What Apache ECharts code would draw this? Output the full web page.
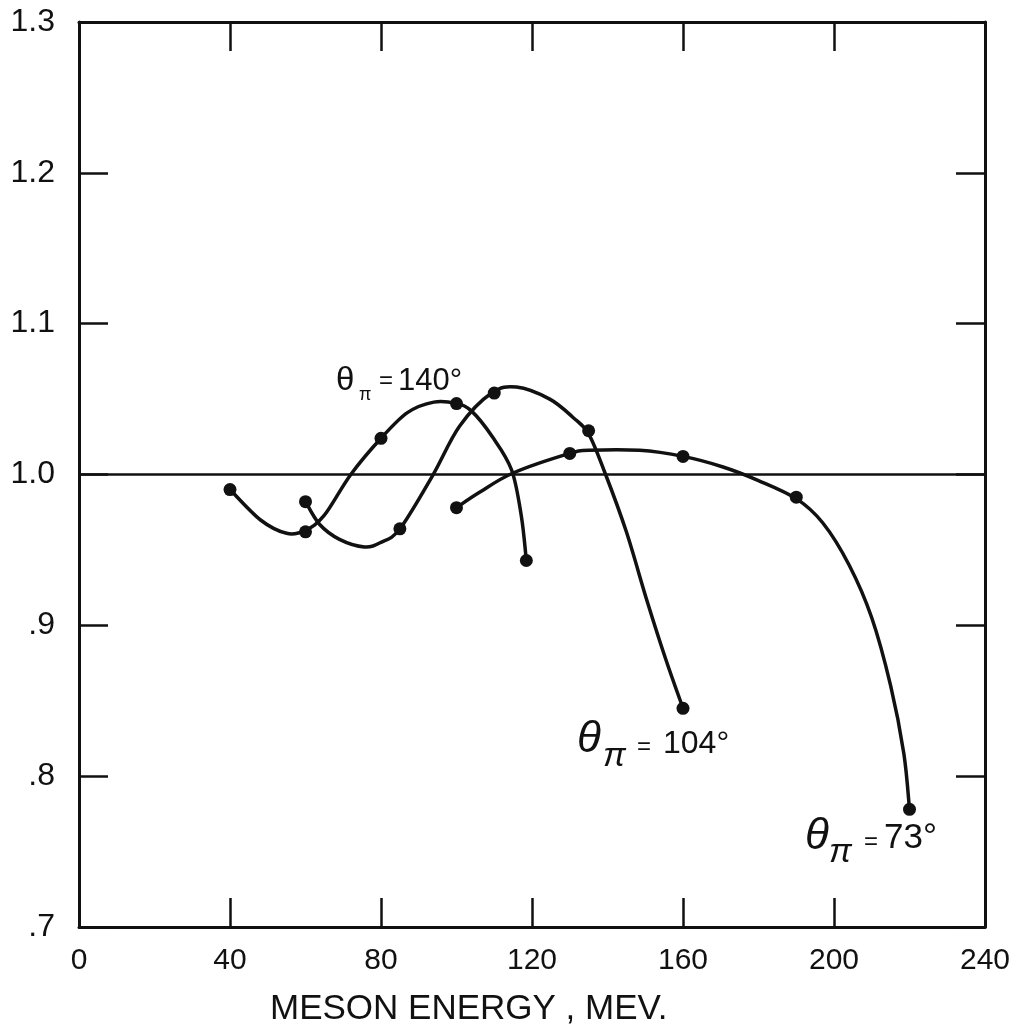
<!DOCTYPE html>
<html>
<head>
<meta charset="utf-8">
<script src="https://cdn.jsdelivr.net/npm/echarts@6/dist/echarts.min.js"></script>
<style>
html,body{margin:0;padding:0;background:#fff;}
#chart{width:1021px;height:1031px;}
</style>
</head>
<body>
<div id="chart"></div>
<script>
// ---- data ----
const xTickValues = [0, 40, 80, 120, 160, 200, 240];
const yTickLabels = ['.7', '.8', '.9', '1.0', '1.1', '1.2', '1.3'];
const xAxisTitle = 'MESON ENERGY , MEV.';

// measured points (dots)
const pts140 = [[40, 0.990], [60, 0.962], [80, 1.024], [100, 1.047], [118.5, 0.943]];
const pts104 = [[60, 0.982], [85, 0.964], [110, 1.054], [135, 1.029], [160, 0.845]];
const pts73  = [[100, 0.978], [130, 1.014], [160, 1.012], [190, 0.985], [220, 0.778]];

// hand-drawn curves
const curve140 = [[40, 0.990], [48, 0.970], [55, 0.961], [60, 0.963], [65, 0.973], [72, 1.000],
  [80, 1.024], [87, 1.041], [94, 1.048], [100, 1.047], [104, 1.042], [109.5, 1.025],
  [114.6, 1.003], [117.2, 0.972], [118.5, 0.943]];
const curve104 = [[60, 0.982], [63.7, 0.967], [69, 0.957], [75.6, 0.952], [80, 0.955], [85, 0.964],
  [93.6, 0.999], [100.8, 1.032], [109.3, 1.054], [115.9, 1.058], [124.7, 1.050], [130.8, 1.038],
  [135, 1.027], [139.5, 1.000], [145, 0.962], [150.5, 0.916], [155.5, 0.877], [160, 0.845]];
const curve73 = [[100, 0.978], [106, 0.988], [115, 1.001], [130, 1.014], [135, 1.016], [148.5, 1.016],
  [160, 1.012], [170.6, 1.005], [180, 0.996], [190, 0.984], [197, 0.968], [204, 0.940],
  [210, 0.905], [215, 0.860], [218.5, 0.815], [220, 0.778]];

const refLine = 1.0;

// ---- chart ----
const INK = '#111';
const FONT = '"Liberation Sans", "DejaVu Sans", sans-serif';
const chart = echarts.init(document.getElementById('chart'), null, {renderer: 'canvas'});

const xBase = {
  type: 'value', min: xTickValues[0], max: xTickValues[xTickValues.length - 1],
  interval: xTickValues[1] - xTickValues[0],
  splitLine: {show: false},
  axisLine: {show: true, onZero: false, lineStyle: {color: INK, width: 3}},
  axisTick: {show: true, inside: true, length: 29, lineStyle: {color: INK, width: 2.5}}
};
const yBase = {
  type: 'value', min: 0.7, max: 1.3, interval: 0.1,
  splitLine: {show: false},
  axisLine: {show: true, onZero: false, lineStyle: {color: INK, width: 3}},
  axisTick: {show: true, inside: true, length: 29, lineStyle: {color: INK, width: 2.5}}
};

// smooth curve through traced points (Catmull-Rom -> cubic Bezier), positioned by the axes
function curveSeries(data) {
  return {
    type: 'custom', coordinateSystem: 'cartesian2d', data: data, z: 3, silent: true,
    renderItem: function (params, api) {
      if (params.dataIndex !== 0) return null;
      const p = data.map(d => api.coord(d));
      let d = 'M' + p[0][0] + ' ' + p[0][1];
      for (let i = 0; i < p.length - 1; i++) {
        const p0 = p[i - 1] || p[i], p1 = p[i], p2 = p[i + 1], p3 = p[i + 2] || p[i + 1];
        const c1x = p1[0] + (p2[0] - p0[0]) / 6, c1y = p1[1] + (p2[1] - p0[1]) / 6;
        const c2x = p2[0] - (p3[0] - p1[0]) / 6, c2y = p2[1] - (p3[1] - p1[1]) / 6;
        d += ' C' + c1x + ' ' + c1y + ' ' + c2x + ' ' + c2y + ' ' + p2[0] + ' ' + p2[1];
      }
      return {type: 'path', shape: {pathData: d},
        style: {fill: 'none', stroke: INK, lineWidth: 3.5, lineJoin: 'round', lineCap: 'round'}};
    }
  };
}
function dotSeries(data) {
  return {type: 'scatter', data: data, symbol: 'circle', symbolSize: 13,
    itemStyle: {color: INK, opacity: 1}, z: 4};
}

function txt(x, y, s, size, italic) {
  return {type: 'text', x: x, y: y, z: 10,
    style: {text: s, fontSize: size, fontFamily: FONT, fontStyle: italic ? 'italic' : 'normal',
      fill: INK, align: 'left', verticalAlign: 'middle'}};
}

const option = {
  animation: false,
  backgroundColor: '#fff',
  grid: {left: 79, top: 22, width: 906, height: 905, containLabel: false},
  xAxis: [
    Object.assign({}, xBase, {position: 'bottom',
      axisLabel: {show: true, color: INK, fontSize: 30, fontFamily: FONT, margin: 19}}),
    Object.assign({}, xBase, {position: 'top', axisLabel: {show: false}})
  ],
  yAxis: [
    Object.assign({}, yBase, {position: 'left',
      axisLabel: {show: true, color: INK, fontSize: 32, fontFamily: FONT, margin: 24,
        formatter: v => yTickLabels[Math.round((v - 0.7) / 0.1)]}}),
    Object.assign({}, yBase, {position: 'right', axisLabel: {show: false}})
  ],
  series: [
    {type: 'line', data: [], silent: true,
      markLine: {silent: true, symbol: 'none', label: {show: false},
        lineStyle: {color: INK, width: 2.5, type: 'solid'}, data: [{yAxis: refLine}]}},
    curveSeries(curve140),
    curveSeries(curve104),
    curveSeries(curve73),
    dotSeries(pts140),
    dotSeries(pts104),
    dotSeries(pts73)
  ],
  graphic: [
    {type: 'text', x: 270, y: 1009, z: 10,
      style: {text: xAxisTitle, fontSize: 35, fontFamily: FONT, fill: INK,
        align: 'left', verticalAlign: 'middle'}},
    // theta = 140
    txt(336, 381, 'θ', 33, false),
    txt(359, 395, 'π', 18, false),
    txt(379, 381, '=', 24, false),
    txt(398, 381, '140°', 31, false),
    // theta = 104
    txt(577, 740, 'θ', 44, true),
    txt(603, 757, 'π', 34, true),
    txt(637, 747, '=', 24, false),
    txt(663, 744, '104°', 32, false),
    // theta = 73
    txt(805, 837, 'θ', 44, true),
    txt(829, 853, 'π', 34, true),
    txt(864, 842, '=', 24, false),
    txt(884, 838, '73°', 35, false)
  ]
};
chart.setOption(option);
</script>
</body>
</html>
